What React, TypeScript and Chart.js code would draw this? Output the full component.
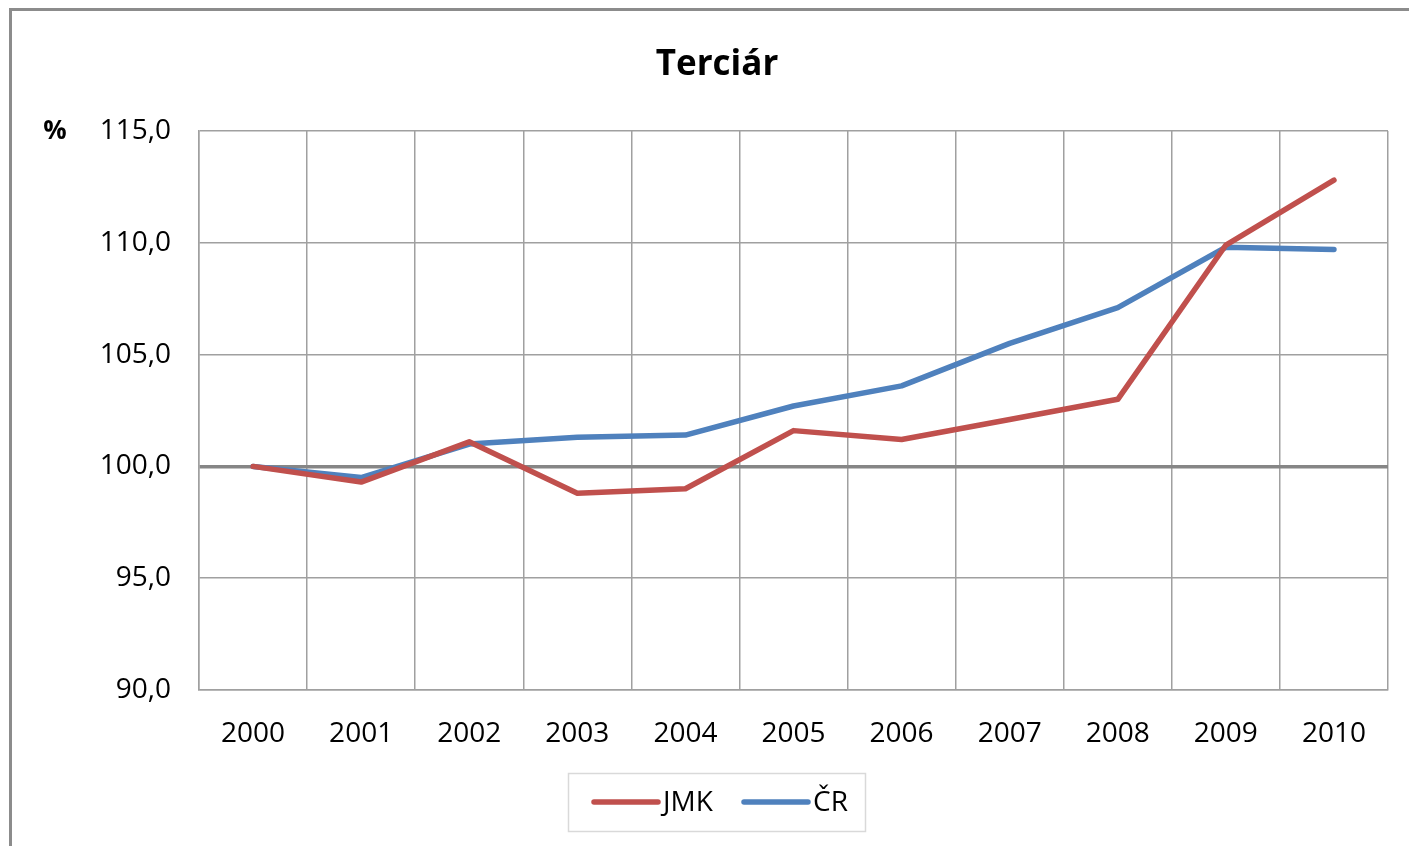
import React, { useEffect, useRef } from "react";
import { Chart, registerables } from "chart.js";

Chart.register(...registerables);

const years = ["2000", "2001", "2002", "2003", "2004", "2005", "2006", "2007", "2008", "2009", "2010"];
const jmk = [100.0, 99.3, 101.1, 98.8, 99.0, 101.6, 101.2, 102.1, 103.0, 109.9, 112.8];
const cr = [100.0, 99.5, 101.0, 101.3, 101.4, 102.7, 103.6, 105.5, 107.1, 109.8, 109.7];
const yMin = 90;
const yMax = 115;
const yStep = 5;
const titleText = "Terciár";
const unitText = "%";

const FONT = "'Open Sans', 'DejaVu Sans', sans-serif";

const decorPlugin = {
  id: "decor",
  beforeDraw(chart: any) {
    const ctx = chart.ctx;
    ctx.save();
    ctx.fillStyle = "#ffffff";
    ctx.fillRect(0, 0, chart.width, chart.height);
    ctx.strokeStyle = "#8c8c8c";
    ctx.lineWidth = 3;
    ctx.beginPath();
    ctx.moveTo(10.5, chart.height + 5);
    ctx.lineTo(10.5, 9.5);
    ctx.lineTo(chart.width + 5, 9.5);
    ctx.stroke();
    ctx.restore();
  },
  afterDraw(chart: any) {
    const ctx = chart.ctx;
    ctx.save();
    ctx.fillStyle = "#000000";
    ctx.font = `bold 35px ${FONT}`;
    ctx.textAlign = "center";
    ctx.textBaseline = "middle";
    ctx.fillText(titleText, 717, 65);
    ctx.font = `bold 26px ${FONT}`;
    ctx.fillText(unitText, 55, 132);
    const bx = 568, by = 773, bw = 297, bh = 58;
    ctx.strokeStyle = "#d9d9d9";
    ctx.lineWidth = 1.5;
    ctx.strokeRect(bx + 0.5, by + 0.5, bw, bh);
    const items = chart.data.datasets.map((d: any) => ({ label: d.label, color: d.borderColor }));
    const starts = [594, 744];
    ctx.lineCap = "round";
    ctx.font = `28px ${FONT}`;
    ctx.textAlign = "left";
    items.forEach((it: any, i: number) => {
      const x = starts[i];
      const y = by + 29;
      ctx.strokeStyle = it.color;
      ctx.lineWidth = 5.5;
      ctx.beginPath();
      ctx.moveTo(x, y);
      ctx.lineTo(x + 64, y);
      ctx.stroke();
      ctx.fillStyle = "#000000";
      ctx.fillText(it.label, x + 69, y + 1);
    });
    ctx.restore();
  },
};

export default function App() {
  const ref = useRef<HTMLCanvasElement | null>(null);
  useEffect(() => {
    document.body.style.margin = "0";
    document.body.style.overflow = "hidden";
    if (!ref.current) return;
    const chart = new Chart(ref.current, {
      type: "line",
      data: {
        labels: years,
        datasets: [
          {
            label: "JMK",
            data: jmk,
            borderColor: "#C0504D",
            backgroundColor: "#C0504D",
            borderWidth: 5.5,
            pointRadius: 0,
            tension: 0,
            borderCapStyle: "round",
            borderJoinStyle: "round",
          },
          {
            label: "ČR",
            data: cr,
            borderColor: "#4F81BD",
            backgroundColor: "#4F81BD",
            borderWidth: 5.5,
            pointRadius: 0,
            tension: 0,
            borderCapStyle: "round",
            borderJoinStyle: "round",
          },
        ],
      },
      options: {
        animation: false,
        responsive: false,
        maintainAspectRatio: false,
        layout: { padding: { left: 0, top: 131, right: 21, bottom: 0 } },
        plugins: {
          legend: { display: false },
          title: { display: false },
          tooltip: { enabled: false },
        },
        scales: {
          x: {
            type: "category",
            offset: true,
            afterFit: (s: any) => {
              s.height = 156;
            },
            grid: {
              offset: true,
              drawTicks: false,
              color: "#a0a0a0",
              lineWidth: 1.5,
            },
            border: { color: "#a0a0a0", width: 1.5 },
            ticks: {
              padding: 27,
              color: "#000000",
              font: { family: FONT, size: 28 },
              maxRotation: 0,
            },
          },
          y: {
            min: yMin,
            max: yMax,
            afterFit: (s: any) => {
              s.width = 199;
            },
            grid: {
              drawTicks: false,
              color: (c: any) => (c.tick && c.tick.value === 100 ? "#868686" : "#a0a0a0"),
              lineWidth: (c: any) => (c.tick && c.tick.value === 100 ? 3.5 : 1.5),
            },
            border: { color: "#a0a0a0", width: 1.5 },
            ticks: {
              stepSize: yStep,
              padding: 28,
              color: "#000000",
              font: { family: FONT, size: 28 },
              callback: (v: any) => Number(v).toFixed(1).replace(".", ","),
            },
          },
        },
      },
      plugins: [decorPlugin],
    } as any);
    return () => chart.destroy();
  }, []);
  return (
    <div style={{ position: "absolute", left: 0, top: 0, width: 1409, height: 846 }}>
      <canvas ref={ref} width={1409} height={846} style={{ width: 1409, height: 846, display: "block" }} />
    </div>
  );
}
